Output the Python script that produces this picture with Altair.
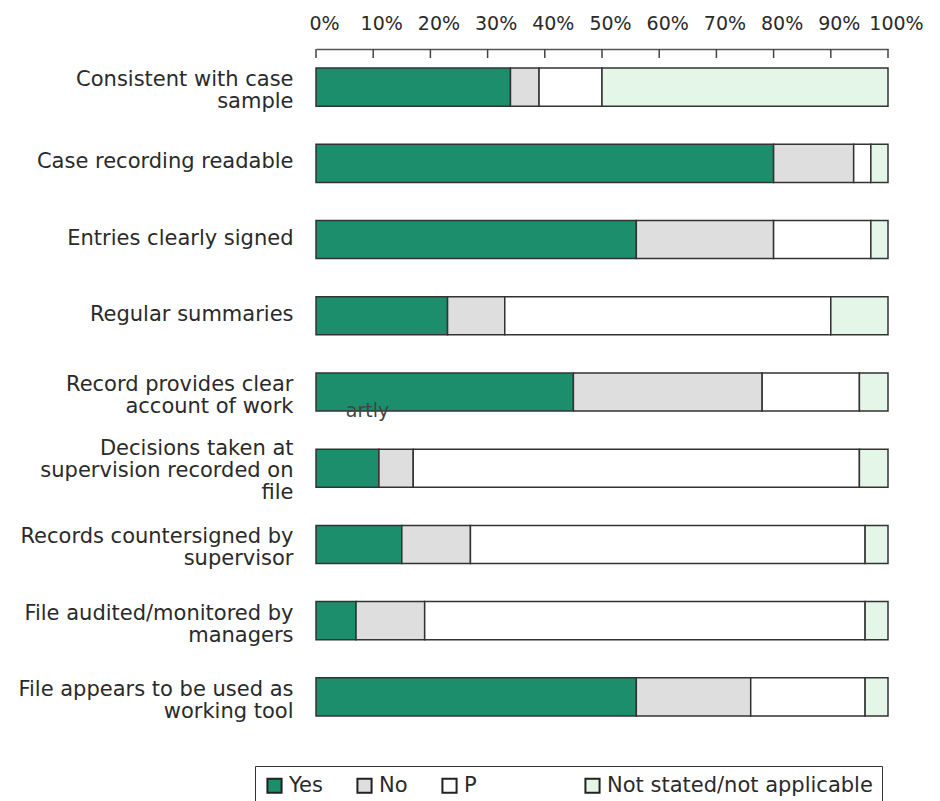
import altair as alt
import pandas as pd

categories = [
    "Consistent with case|sample",
    "Case recording readable",
    "Entries clearly signed",
    "Regular summaries",
    "Record provides clear|account of work",
    "Decisions taken at|supervision recorded on|file",
    "Records countersigned by|supervisor",
    "File audited/monitored by|managers",
    "File appears to be used as|working tool",
]
series = ["Yes", "No", "P", "Not stated/not applicable"]
yes = [34, 80, 56, 23, 45, 11, 15, 7, 56]
no = [5, 14, 24, 10, 33, 6, 12, 12, 20]
p = [11, 3, 17, 57, 17, 78, 69, 77, 20]
na = [50, 3, 3, 10, 5, 5, 4, 4, 4]
tick_values = [0, 10, 20, 30, 40, 50, 60, 70, 80, 90, 100]
colors = ["#1c8e6c", "#dedede", "#ffffff", "#e4f6e8"]
stray_text = ["artly"]
stray_cat = ["Record provides clear|account of work"]
stray_x = [9]

rows = []
for i, c in enumerate(categories):
    for j, (s, vals) in enumerate(zip(series, [yes, no, p, na])):
        rows.append({"category": c, "series": s, "value": vals[i], "order": j})
df = pd.DataFrame(rows)

FONT = "DejaVu Sans"
TXT = "#2a2a2a"
NB = chr(160)
p_label = "P" + NB * 11 + chr(0x200B)

yenc = alt.Y(
    "category:N",
    sort=categories,
    scale=alt.Scale(paddingInner=0.5, paddingOuter=0.25),
    axis=alt.Axis(
        title=None, domain=False, ticks=False, labelPadding=23,
        labelFont=FONT, labelFontSize=21, labelColor=TXT, labelLimit=400,
        labelLineHeight=22, labelExpr="split(datum.label, '|')",
        labelOffset={
            "condition": [
                {"test": "length(split(datum.value, '|')) == 3", "value": -19.5},
                {"test": "length(split(datum.value, '|')) == 2", "value": -7},
            ],
            "value": -1,
        },
    ),
)

xscale = alt.Scale(domain=[0, 100], nice=False)

bars = alt.Chart(df).mark_bar(stroke="#333333", strokeWidth=1.5).encode(
    x=alt.X(
        "value:Q", stack="zero", scale=xscale,
        axis=alt.Axis(
            orient="top", title=None, values=tick_values, tickSize=0,
            labelExpr="datum.value + '%'", labelFont=FONT, labelFontSize=19,
            labelColor=TXT, labelPadding=16, labelOffset=8, labelFlush=False,
            labelOverlap=False,
            domainColor="#555555", domainWidth=1.5, grid=False,
        ),
    ),
    y=yenc,
    color=alt.Color(
        "series:N",
        scale=alt.Scale(domain=series, range=colors),
        legend=alt.Legend(
            title=None, orient="none", direction="horizontal",
            legendX=-61, legendY=717, symbolType="square", symbolSize=200,
            symbolStrokeColor="#222222", symbolStrokeWidth=2,
            labelFont=FONT, labelFontSize=21, labelColor=TXT,
            columnPadding=30, padding=9, strokeColor="#333333",
            labelExpr="datum.label == 'P' ? '" + p_label + "' : datum.label",
            labelLimit=400,
        ),
    ),
    order=alt.Order("order:Q"),
)

tick_df = pd.DataFrame({"t": tick_values})
ticks = alt.Chart(tick_df).mark_rule(color="#444444", strokeWidth=1.5).encode(
    x=alt.X("t:Q", scale=xscale),
    y=alt.value(0),
    y2=alt.value(9),
)

stray_df = pd.DataFrame({"category": stray_cat, "x": stray_x, "txt": stray_text})
stray = alt.Chart(stray_df).mark_text(
    font=FONT, fontSize=19, color="#444444", dy=19
).encode(x=alt.X("x:Q", scale=xscale), y=alt.Y("category:N", sort=categories), text="txt:N")

chart = alt.layer(bars, ticks, stray).properties(
    width=572, height=686,
    autosize=alt.AutoSizeParams(type="none"),
    padding={"left": 308, "top": 41, "right": 40, "bottom": 90},
).configure_view(stroke=None)

chart.save("out.html", embed_options={"renderer": "svg", "actions": False})
